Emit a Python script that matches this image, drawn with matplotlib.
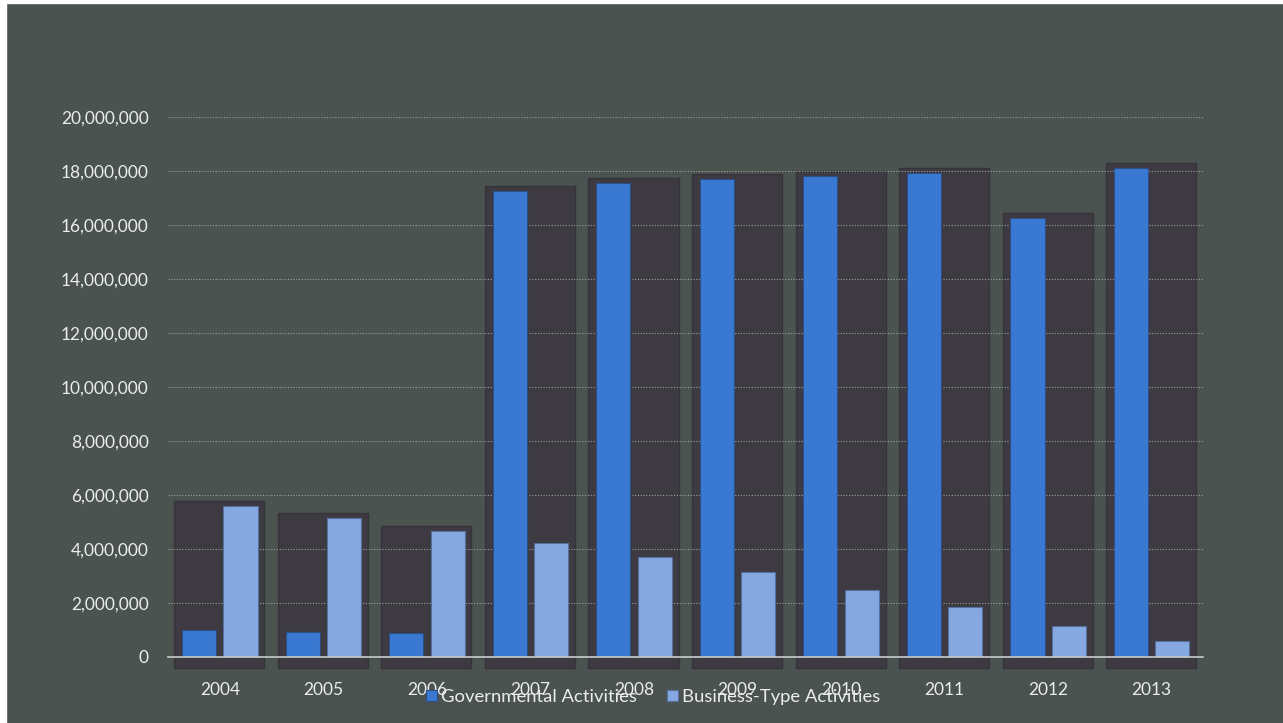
import numpy as np
import matplotlib.pyplot as plt
from matplotlib.patches import Rectangle
from matplotlib.ticker import FuncFormatter

years = ['2004', '2005', '2006', '2007', '2008', '2009', '2010', '2011', '2012', '2013']
governmental = [1.00e6, 0.93e6, 0.89e6, 17.26e6, 17.56e6, 17.70e6, 17.80e6, 17.93e6, 16.26e6, 18.10e6]
business = [5.59e6, 5.15e6, 4.67e6, 4.22e6, 3.70e6, 3.15e6, 2.48e6, 1.85e6, 1.15e6, 0.59e6]

bg = '#4a534f'
txt = '#ececec'
gov_color = '#3a79d2'
bus_color = '#86a8e0'
shadow_color = '#3d3a42'

plt.rcParams['font.family'] = ['Lato', 'DejaVu Sans']

fig = plt.figure(figsize=(12.83, 7.23), dpi=100)
fig.patch.set_facecolor(bg)
# thin white scan border on the left and top
fig.patches.append(Rectangle((0, 0), 6 / 1283, 1, transform=fig.transFigure,
                             color='white', zorder=0))
fig.patches.append(Rectangle((0, 1 - 3 / 723), 1, 3 / 723, transform=fig.transFigure,
                             color='white', zorder=0))

ax = fig.add_axes([0.131, 0.0913, 0.807, 0.747])
ax.set_facecolor('none')

x = np.arange(len(years))
w = 0.33
off = 0.2

# drop-shadow boxes behind each group
top = np.maximum(governmental, business)
ax.bar(x - 0.005, top + 0.6e6, width=0.87, bottom=-0.42e6, color=shadow_color,
       edgecolor='#35343b', linewidth=1, zorder=1, clip_on=False)

ax.bar(x - off, governmental, width=w, color=gov_color, edgecolor='#2b4f86',
       linewidth=0.8, zorder=3, label='Governmental Activities')
ax.bar(x + off, business, width=w, color=bus_color, edgecolor='#55709e',
       linewidth=0.8, zorder=3, label='Business-Type Activities')

ax.set_xlim(-0.5, 9.5)
ax.set_ylim(0, 20e6)
ax.set_yticks(np.arange(0, 20e6 + 1, 2e6))
ax.yaxis.set_major_formatter(FuncFormatter(lambda v, p: f'{int(v):,}'))
ax.set_xticks(x)
ax.set_xticklabels(years)
ax.grid(axis='y', color='#9aa19d', linestyle=(0, (1, 1.5)), linewidth=0.8, zorder=2)
ax.set_axisbelow(False)

for s in ['top', 'right', 'left']:
    ax.spines[s].set_visible(False)
ax.spines['bottom'].set_color('#c8cccb')
ax.spines['bottom'].set_linewidth(1.2)
ax.spines['bottom'].set_zorder(4)
ax.tick_params(axis='both', length=0, colors=txt, labelsize=12.5)
ax.tick_params(axis='y', pad=14)
ax.tick_params(axis='x', pad=18)

leg = fig.legend(loc='center', bbox_to_anchor=(0.509, 0.036), ncol=2, frameon=False,
                 fontsize=13.3, handlelength=0.6, handleheight=0.6, handletextpad=0.25,
                 columnspacing=1.6, labelcolor=txt)

fig.savefig('out.png', dpi=100, facecolor=bg)
